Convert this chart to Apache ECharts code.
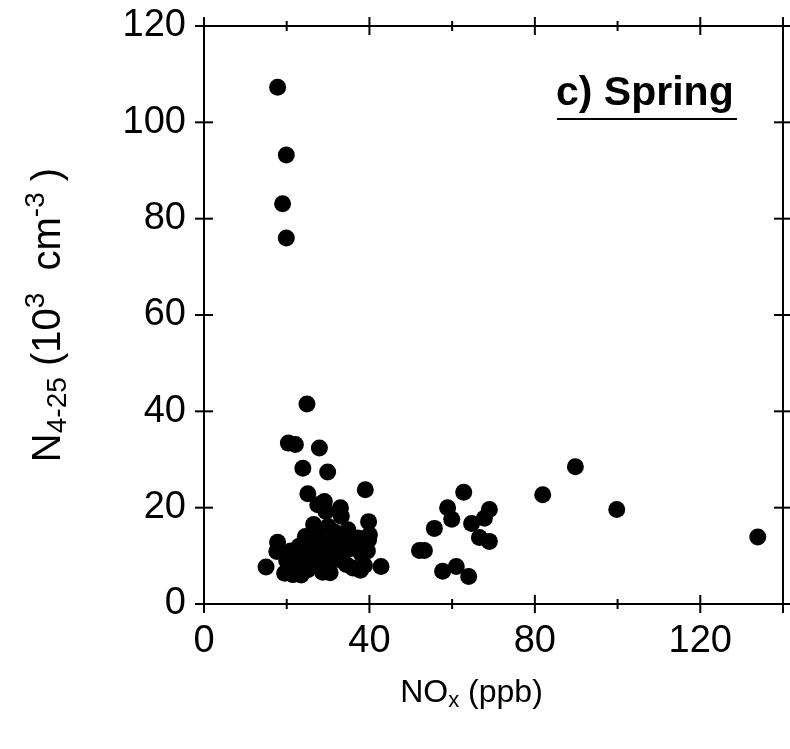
<!DOCTYPE html>
<html><head><meta charset="utf-8">
<script src="https://cdn.jsdelivr.net/npm/echarts@6/dist/echarts.min.js"></script>
<style>html,body{margin:0;padding:0;background:#fff}#c{width:790px;height:749px}</style>
</head><body><div id="c"></div>
<script>
// Data: [NOx (ppb), N4-25 (10^3 cm^-3)]
const highPoints = [[17.8,107.3],[19.9,93.2],[19.0,83.1],[19.9,76.0]];
const upperCluster = [[24.9,41.5],[20.4,33.4],[22.1,33.1],[27.9,32.4],[23.9,28.2],[29.9,27.4],[39.0,23.7],[25.1,22.9],[29.1,21.3],[29.5,19.2],[33.0,20.0],[33.2,18.2],[39.8,17.1],[39.8,13.3],[27.5,20.6],[26.5,16.5]];
const lowCluster = [[17.8,12.8],[17.6,10.9],[15.0,7.7],[19.5,6.4],[21.5,6.1],[25.1,7.1],[28.7,6.6],[34.4,8.2],[37.8,7.0],[42.8,7.8],
  [20.0,9.0],[21.0,11.0],[22.5,8.5],[23.0,12.0],[24.0,10.0],[24.5,14.0],[25.5,12.5],[26.0,9.5],[27.0,11.0],[27.5,14.5],
  [28.0,13.0],[28.3,8.5],[29.0,11.5],[30.0,16.1],[30.5,9.5],[31.0,13.0],[31.5,15.0],[32.0,11.0],[32.8,12.0],[33.5,9.0],
  [34.0,14.0],[34.8,15.4],[35.5,11.5],[36.0,13.5],[37.2,13.7],[38.0,10.5],[38.8,8.0],[39.5,11.0],[40.0,14.4],
  [22.0,7.0],[23.5,6.0],[30.5,6.5],[36.0,7.5],[31.5,9.2]];
const midPoints = [[52.1,11.1],[53.3,11.1],[55.7,15.7],[58.9,20.0],[59.9,17.6],[62.8,23.2],[64.7,16.7],[66.6,13.8],[67.8,17.8],[69.0,19.6],[69.0,13.0],[57.7,6.8],[61.0,7.8],[64.0,5.7]];
const farPoints = [[81.9,22.7],[89.8,28.5],[99.8,19.6],[133.9,13.9]];

// Axis ticks (major = labelled, minor = short)
const xMin = 0, xMax = 140, xMajor = 40;
const yMin = 0, yMax = 120, yMajor = 20;
const xMajorTicks = [0, 40, 80, 120, 140];
const xMinorTicks = [20, 60, 100];
const yMajorTicks = [0, 20, 40, 60, 80, 100, 120];
const panelLabel = 'c) Spring';

const allPoints = [].concat(highPoints, upperCluster, lowCluster, midPoints, farPoints);
const FONT = '"Liberation Sans", Arial, sans-serif';
const MAJ = 9, MIN = 5;

const xTickData = xMajorTicks.map(v => [v, yMin, MAJ]).concat(xMinorTicks.map(v => [v, yMin, MIN]));
const yTickData = yMajorTicks.map(v => [xMin, v, MAJ]);

function seg(x1, y1, x2, y2) {
  return {type: 'line', shape: {x1, y1, x2, y2}, style: {stroke: '#000', lineWidth: 2}};
}
function renderXTick(params, api) {
  const v = api.value(0), len = api.value(2);
  const b = api.coord([v, yMin]), t = api.coord([v, yMax]);
  return {type: 'group', children: [seg(b[0], b[1] - len, b[0], b[1] + len), seg(t[0], t[1] - len, t[0], t[1] + len)]};
}
function renderYTick(params, api) {
  const v = api.value(1), len = api.value(2);
  const l = api.coord([xMin, v]), r = api.coord([xMax, v]);
  return {type: 'group', children: [seg(l[0] - len, l[1], l[0] + len, l[1]), seg(r[0] - len, r[1], r[0] + len, r[1])]};
}

const chart = echarts.init(document.getElementById('c'), null, {renderer: 'canvas'});
chart.setOption({
  animation: false,
  backgroundColor: '#fff',
  grid: {left: 204, top: 26, width: 579, height: 578, outerBoundsMode: 'none', containLabel: false,
    show: true, borderColor: '#000', borderWidth: 2, backgroundColor: 'transparent'},
  xAxis: {type: 'value', position: 'bottom', min: xMin, max: xMax, interval: xMajor,
      axisLine: {show: false}, axisTick: {show: false}, splitLine: {show: false},
      axisLabel: {fontSize: 38, color: '#000', fontFamily: FONT, margin: 19,
        formatter: v => (v === xMax ? '' : String(v))},
      name: '{t|NO}{sub|x}{t| (ppb)}', nameLocation: 'middle', nameGap: 71,
      nameTextStyle: {padding: [0, 44, 0, 0], rich: {
        t: {fontSize: 32, color: '#000', fontFamily: FONT, verticalAlign: 'middle'},
        sub: {fontSize: 22, color: '#000', fontFamily: FONT, verticalAlign: 'middle', padding: [15, 0, 0, 0]}
      }}},
  yAxis: {type: 'value', position: 'left', min: yMin, max: yMax, interval: yMajor,
      axisLine: {show: false}, axisTick: {show: false}, splitLine: {show: false},
      axisLabel: {fontSize: 38, color: '#000', fontFamily: FONT, margin: 18},
      name: '{t|N}{sub|4-25}{t| (10}{sup|3}{t|  cm}{sup|-3}{t| )}', nameLocation: 'middle', nameGap: 128,
      nameTextStyle: {rich: {
        t: {fontSize: 40, color: '#000', fontFamily: FONT, verticalAlign: 'middle'},
        sub: {fontSize: 28, color: '#000', fontFamily: FONT, verticalAlign: 'middle', padding: [18, 0, 0, 0]},
        sup: {fontSize: 28, color: '#000', fontFamily: FONT, verticalAlign: 'middle', padding: [0, 0, 26, 0]}
      }}},
  series: [
    {type: 'scatter', data: allPoints, symbol: 'circle', symbolSize: 17,
      itemStyle: {color: '#000', opacity: 1}, z: 5},
    {type: 'custom', data: xTickData, renderItem: renderXTick, clip: false, silent: true, z: 3},
    {type: 'custom', data: yTickData, renderItem: renderYTick, clip: false, silent: true, z: 3}
  ],
  graphic: [
    {type: 'text', left: 556, top: 73, style: {text: panelLabel, font: 'bold 41px ' + FONT, fill: '#000'}},
    {type: 'line', shape: {x1: 557, y1: 119, x2: 737, y2: 119}, style: {stroke: '#000', lineWidth: 2}}
  ]
});
</script>
</body></html>
